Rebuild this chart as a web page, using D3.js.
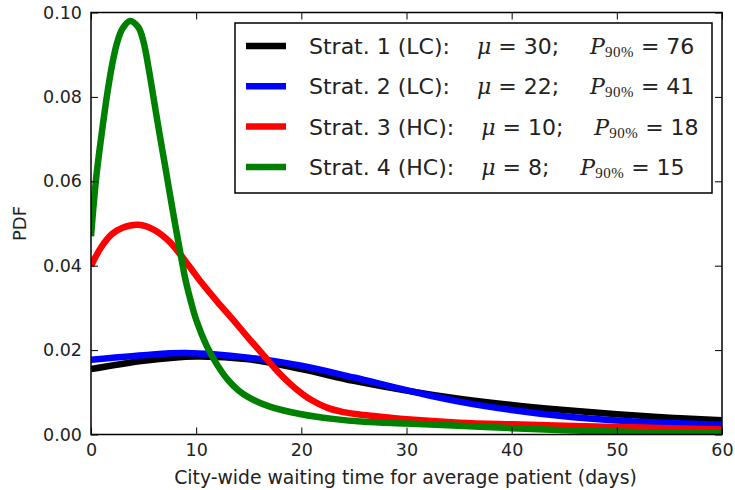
<!DOCTYPE html>
<html>
<head>
<meta charset="utf-8">
<script src="https://cdn.jsdelivr.net/npm/d3@7"></script>
<style>
    body { margin: 0; background: #fff; }
    svg { display: block; font-family: "DejaVu Sans", sans-serif; }
</style>
</head>
<body>
<div id="chart"></div>
<script>
// Waiting-time PDFs for the four strategies

const xTicks = [0, 10, 20, 30, 40, 50, 60];
const yTicks = [0, 0.02, 0.04, 0.06, 0.08, 0.10];

const strat1Days = [0, 5, 10, 15, 20, 25, 30, 35, 40, 45, 50, 55, 60];
const strat1Pdf = [0.0155, 0.0175, 0.0185, 0.0178, 0.0155, 0.0127, 0.0104, 0.0085, 0.0070, 0.0058, 0.0048, 0.0040, 0.0034];

const strat2Days = [0, 5, 9, 15, 20, 25, 30, 35, 40, 45, 50, 55, 60];
const strat2Pdf = [0.0177, 0.0188, 0.0193, 0.0182, 0.0163, 0.0135, 0.0105, 0.0078, 0.0058, 0.0043, 0.0033, 0.0027, 0.0023];

const strat3Days = [0, 1, 2, 3, 4.5, 6, 7.5, 9, 10.5, 12, 13.5, 15, 16.5, 18, 19.5, 21, 22.5, 24, 26, 28, 30, 35, 40, 45, 50, 55, 60];
const strat3Pdf = [0.040, 0.0445, 0.0475, 0.049, 0.0497, 0.0485, 0.0456, 0.0410, 0.036, 0.0315, 0.0272, 0.0228, 0.0185, 0.0143, 0.0108, 0.0081, 0.0063, 0.0053, 0.0046, 0.0041, 0.0036, 0.0028, 0.0024, 0.0021, 0.0018, 0.0015, 0.0012];

const strat4Days = [0, 0.5, 1, 1.5, 2, 2.5, 3, 3.7, 4.5, 5, 5.5, 6, 6.5, 7, 7.5, 8, 8.5, 9, 9.5, 10, 11, 12, 13, 14, 15, 17, 20, 23, 26, 30, 35, 40, 45, 50, 55, 60];
const strat4Pdf = [0.047, 0.061, 0.071, 0.080, 0.0875, 0.093, 0.0962, 0.098, 0.0965, 0.093, 0.0865, 0.079, 0.0715, 0.0643, 0.057, 0.0498, 0.043, 0.0365, 0.0315, 0.0272, 0.021, 0.0165, 0.013, 0.0105, 0.0088, 0.0066, 0.0048, 0.0037, 0.003, 0.0026, 0.0021, 0.0015, 0.001, 0.0007, 0.0004, 0.0003];

const labels = ['Strat. 1 (LC):', 'Strat. 2 (LC):', 'Strat. 3 (HC):', 'Strat. 4 (HC):'];
const means = [30, 22, 10, 8];
const p90s = [76, 41, 18, 15];
const colors = ['#000000', '#0000ff', '#ff0000', '#008000'];

const series = [
    { days: strat1Days, pdf: strat1Pdf },
    { days: strat2Days, pdf: strat2Pdf },
    { days: strat3Days, pdf: strat3Pdf },
    { days: strat4Days, pdf: strat4Pdf }
].map((s, i) => ({
    label: labels[i],
    mean: means[i],
    p90: p90s[i],
    color: colors[i],
    points: s.days.map((d, j) => ({ x: d, y: s.pdf[j] }))
}));

const width = 735;
const height = 490;
const margin = { top: 12.5, right: 13, bottom: 55.5, left: 91 };
const innerW = width - margin.left - margin.right;
const innerH = height - margin.top - margin.bottom;
const textColor = '#222';

const svg = d3.select('#chart')
    .append('svg')
    .attr('width', width)
    .attr('height', height);

const g = svg.append('g')
    .attr('transform', `translate(${margin.left},${margin.top})`);

const x = d3.scaleLinear().domain([0, 60]).range([0, innerW]);
const y = d3.scaleLinear().domain([0, 0.1]).range([innerH, 0]);

svg.append('defs').append('clipPath')
    .attr('id', 'plot-clip')
    .append('rect')
    .attr('width', innerW)
    .attr('height', innerH);

// Curves
const line = d3.line()
    .x(d => x(d.x))
    .y(d => y(d.y))
    .curve(d3.curveCatmullRom.alpha(0.5));

g.append('g')
    .attr('clip-path', 'url(#plot-clip)')
    .selectAll('path')
    .data(series)
    .join('path')
    .attr('d', d => line(d.points))
    .attr('fill', 'none')
    .attr('stroke', d => d.color)
    .attr('stroke-width', 6.5);

// Axes (ticks point inward, on all four sides)
const tickLen = -7;

const styleAxis = sel => {
    sel.select('.domain').remove();
    sel.selectAll('.tick line').attr('stroke', '#000').attr('stroke-width', 1);
    sel.selectAll('.tick text')
        .attr('fill', textColor)
        .attr('font-size', '17.5px')
        .attr('font-family', '"DejaVu Sans", sans-serif');
};

g.append('g')
    .attr('transform', `translate(0,${innerH})`)
    .call(d3.axisBottom(x).tickValues(xTicks).tickSizeInner(tickLen).tickSizeOuter(0).tickPadding(9))
    .call(styleAxis);

g.append('g')
    .call(d3.axisLeft(y).tickValues(yTicks).tickFormat(d3.format('.2f')).tickSizeInner(tickLen).tickSizeOuter(0).tickPadding(9))
    .call(styleAxis);

g.append('g')
    .call(d3.axisTop(x).tickValues(xTicks).tickFormat('').tickSizeInner(tickLen).tickSizeOuter(0))
    .call(styleAxis);

g.append('g')
    .attr('transform', `translate(${innerW},0)`)
    .call(d3.axisRight(y).tickValues(yTicks).tickFormat('').tickSizeInner(tickLen).tickSizeOuter(0))
    .call(styleAxis);

// Frame
g.append('rect')
    .attr('width', innerW)
    .attr('height', innerH)
    .attr('fill', 'none')
    .attr('stroke', '#000')
    .attr('stroke-width', 1.5);

// Axis labels
svg.append('text')
    .attr('x', margin.left + innerW / 2 - 1)
    .attr('y', 484)
    .attr('text-anchor', 'middle')
    .attr('fill', textColor)
    .attr('font-size', '18.8px')
    .text('City-wide waiting time for average patient (days)');

svg.append('text')
    .attr('transform', `translate(26,${margin.top + innerH / 2}) rotate(-90)`)
    .attr('text-anchor', 'middle')
    .attr('fill', textColor)
    .attr('font-size', '18px')
    .text('PDF');

// Legend
const legend = svg.append('g').attr('transform', 'translate(235,23)');

legend.append('rect')
    .attr('width', 477)
    .attr('height', 170)
    .attr('fill', '#fff')
    .attr('stroke', '#000')
    .attr('stroke-width', 1.5);

const rowGap = 40.3;
const rows = legend.selectAll('.legend-row')
    .data(series)
    .join('g')
    .attr('class', 'legend-row')
    .attr('transform', (d, i) => `translate(0,${23 + i * rowGap})`);

rows.append('line')
    .attr('x1', 11).attr('x2', 51)
    .attr('stroke', d => d.color)
    .attr('stroke-width', 6.5);

const serif = '"DejaVu Serif", "Liberation Serif", serif';
const rowText = rows.append('text')
    .attr('x', 74)
    .attr('dy', '0.36em')
    .attr('fill', textColor)
    .attr('font-size', '22px');

rowText.append('tspan').text(d => d.label);
rowText.append('tspan')
    .attr('dx', 27)
    .attr('font-family', serif)
    .attr('font-style', 'italic')
    .text('\u03bc');
rowText.append('tspan').text(d => ` = ${d.mean};`);
rowText.append('tspan')
    .attr('dx', 31)
    .attr('font-family', serif)
    .attr('font-style', 'italic')
    .text('P');
rowText.append('tspan')
    .attr('dx', 0)
    .attr('dy', 3)
    .attr('font-family', '"Liberation Serif", serif')
    .attr('font-size', '15px')
    .attr('letter-spacing', '0.5px')
    .text('90%');
rowText.append('tspan')
    .attr('dx', 7)
    .attr('dy', -3)
    .text(d => `= ${d.p90}`);
</script>
</body>
</html>
